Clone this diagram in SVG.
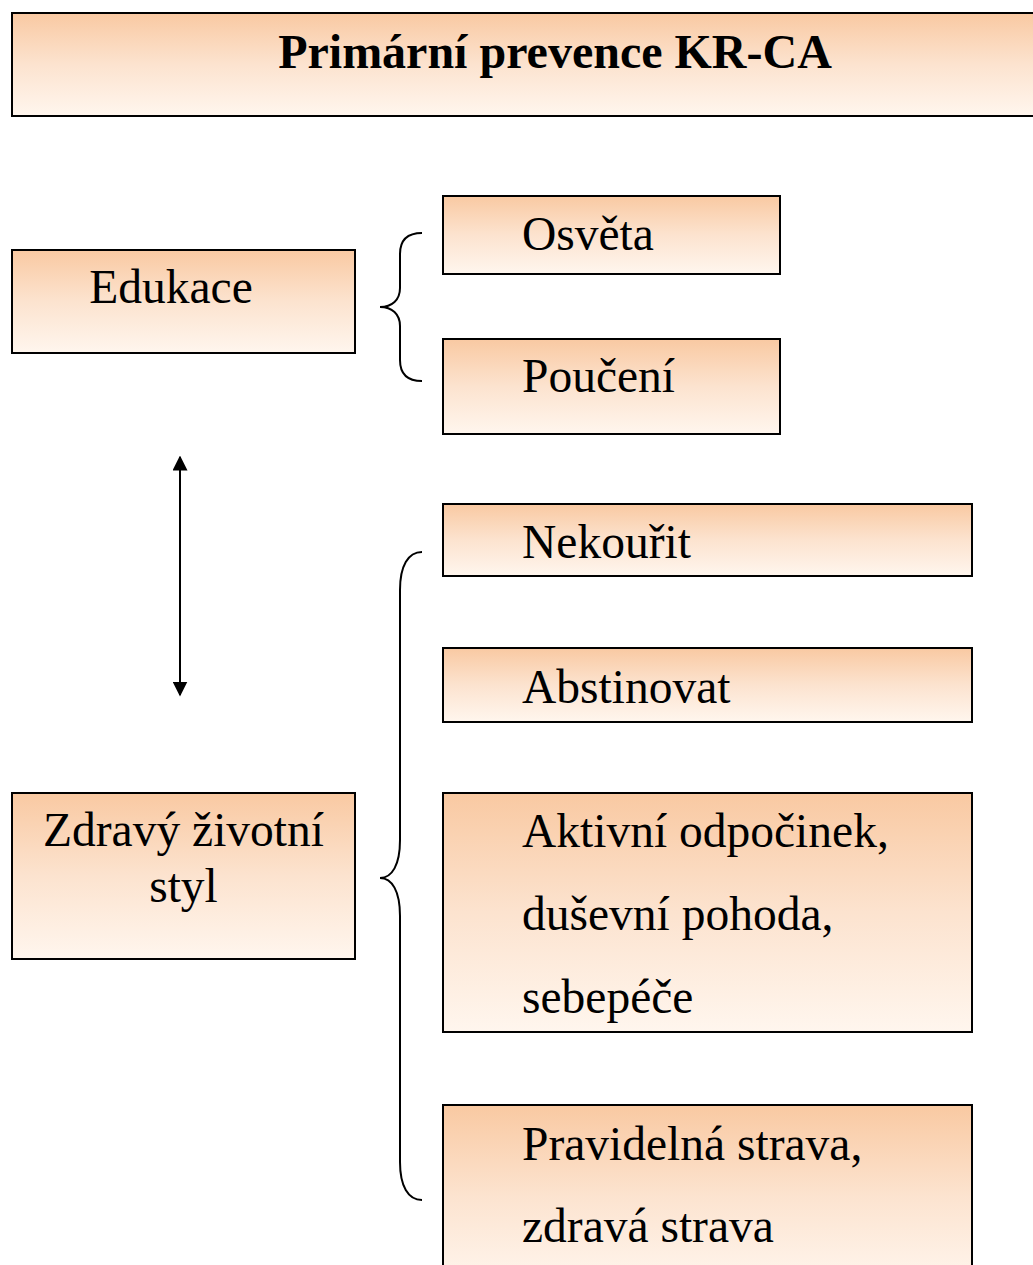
<svg xmlns="http://www.w3.org/2000/svg" width="1033" height="1265" viewBox="0 0 1033 1265">
<style>
.box{fill:url(#g);stroke:#000;stroke-width:2}
text{font-family:"Liberation Serif","Times New Roman",serif;fill:#000}
.t{font-size:47.5px}
.title{font-size:48px;font-weight:bold}
.c{fill:none;stroke:#000;stroke-width:2}
</style>
<defs>
<linearGradient id="g" x1="0" y1="0" x2="0" y2="1">
<stop offset="0" stop-color="#F9C9A2"/>
<stop offset="0.5" stop-color="#FCE3CF"/>
<stop offset="1" stop-color="#FFF6EE"/>
</linearGradient>
<marker id="ah" viewBox="0 0 10 10" refX="9" refY="5" markerWidth="15" markerHeight="15" markerUnits="userSpaceOnUse" orient="auto-start-reverse">
<path d="M0,0 L10,5 L0,10 Z" fill="#000"/>
</marker>
</defs>
<g id="title"><rect class="box" x="12" y="13" width="1040" height="103"/><text class="title" x="555" y="68" text-anchor="middle">Primární prevence KR-CA</text></g>
<g id="edukace"><rect class="box" x="12" y="250" width="343" height="103"/><text class="t" x="171" y="303" text-anchor="middle">Edukace</text></g>
<g id="osveta"><rect class="box" x="443" y="196" width="337" height="78"/><text class="t" x="522" y="250">Osvěta</text></g>
<g id="pouceni"><rect class="box" x="443" y="339" width="337" height="95"/><text class="t" x="522" y="392">Poučení</text></g>
<g id="nekourit"><rect class="box" x="443" y="504" width="529" height="72"/><text class="t" x="522" y="558">Nekouřit</text></g>
<g id="abstinovat"><rect class="box" x="443" y="648" width="529" height="74"/><text class="t" x="522" y="703">Abstinovat</text></g>
<g id="aktivni"><rect class="box" x="443" y="793" width="529" height="239"/><text class="t" x="522" y="847">Aktivní odpočinek,</text><text class="t" x="522" y="930">duševní pohoda,</text><text class="t" x="522" y="1013">sebepéče</text></g>
<g id="strava"><rect class="box" x="443" y="1105" width="529" height="180"/><text class="t" x="522" y="1160">Pravidelná strava,</text><text class="t" x="522" y="1242">zdravá strava</text></g>
<g id="zdravy"><rect class="box" x="12" y="793" width="343" height="166"/><text class="t" x="183.5" y="846" text-anchor="middle">Zdravý životní</text><text class="t" x="183.5" y="902" text-anchor="middle">styl</text></g>
<g id="connectors">
<path class="c" d="M422,233 C408,233 400,240 400,254 L400,288 C400,300 392,307 380,307 C392,307 400,314 400,326 L400,360 C400,374 408,381 422,381"/>
<path class="c" d="M422,552 C408,552 400,566 400,590 L400,840 C400,865 392,878 380,878 C392,878 400,891 400,916 L400,1162 C400,1186 408,1200 422,1200"/>
<line class="c" x1="180" y1="457" x2="180" y2="695" marker-start="url(#ah)" marker-end="url(#ah)"/>
</g>
</svg>
